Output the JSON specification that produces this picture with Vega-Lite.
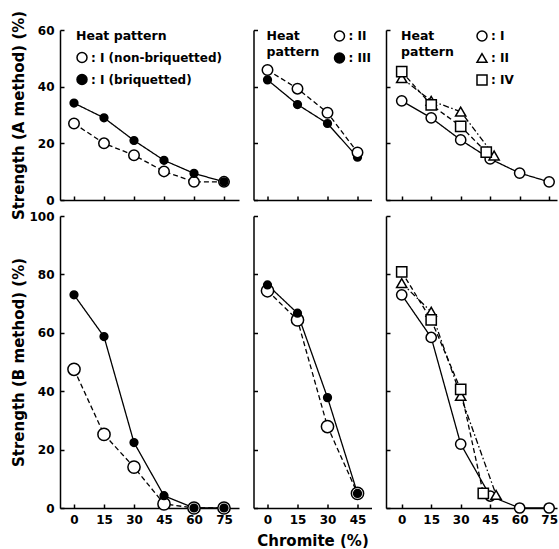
{
  "$schema": "https://vega.github.io/schema/vega-lite/v6.json",
  "padding": {"left": 11, "top": 10, "right": 0, "bottom": 0},
  "background": "white",
  "bounds": "flush",
  "datasets": {
    "tl": [
      {"x": 0, "y": 27, "s": ": I (non-briquetted)"},
      {"x": 15, "y": 20, "s": ": I (non-briquetted)"},
      {"x": 30, "y": 15.8, "s": ": I (non-briquetted)"},
      {"x": 45, "y": 10.1, "s": ": I (non-briquetted)"},
      {"x": 60, "y": 6.4, "s": ": I (non-briquetted)"},
      {"x": 75, "y": 6.4, "s": ": I (non-briquetted)"},
      {"x": 0, "y": 34.2, "s": ": I (briquetted)"},
      {"x": 15, "y": 29, "s": ": I (briquetted)"},
      {"x": 30, "y": 21, "s": ": I (briquetted)"},
      {"x": 45, "y": 14, "s": ": I (briquetted)"},
      {"x": 60, "y": 9.4, "s": ": I (briquetted)"},
      {"x": 75, "y": 6.4, "s": ": I (briquetted)"}
    ],
    "tm": [
      {"x": 0, "y": 42.4, "s": ": III"},
      {"x": 15, "y": 33.7, "s": ": III"},
      {"x": 30, "y": 27, "s": ": III"},
      {"x": 45, "y": 15.1, "s": ": III"},
      {"x": 0, "y": 45.9, "s": ": II"},
      {"x": 15, "y": 39.3, "s": ": II"},
      {"x": 30, "y": 30.8, "s": ": II"},
      {"x": 45, "y": 16.8, "s": ": II"}
    ],
    "tr": [
      {"x": 0, "y": 35, "s": ": I"},
      {"x": 15, "y": 29, "s": ": I"},
      {"x": 30, "y": 21.2, "s": ": I"},
      {"x": 45, "y": 14.5, "s": ": I"},
      {"x": 60, "y": 9.5, "s": ": I"},
      {"x": 75, "y": 6.4, "s": ": I"},
      {"x": 0, "y": 43, "s": ": II"},
      {"x": 15, "y": 35, "s": ": II"},
      {"x": 30, "y": 31.2, "s": ": II"},
      {"x": 47, "y": 15.7, "s": ": II"},
      {"x": 0, "y": 45.3, "s": ": IV"},
      {"x": 15, "y": 33.6, "s": ": IV"},
      {"x": 30, "y": 26, "s": ": IV"},
      {"x": 43, "y": 16.9, "s": ": IV"}
    ],
    "bl": [
      {"x": 0, "y": 47.5, "s": ": I (non-briquetted)"},
      {"x": 15, "y": 25.2, "s": ": I (non-briquetted)"},
      {"x": 30, "y": 14, "s": ": I (non-briquetted)"},
      {"x": 45, "y": 1.4, "s": ": I (non-briquetted)"},
      {"x": 60, "y": 0, "s": ": I (non-briquetted)"},
      {"x": 75, "y": 0, "s": ": I (non-briquetted)"},
      {"x": 0, "y": 73, "s": ": I (briquetted)"},
      {"x": 15, "y": 58.7, "s": ": I (briquetted)"},
      {"x": 30, "y": 22.4, "s": ": I (briquetted)"},
      {"x": 45, "y": 4.2, "s": ": I (briquetted)"},
      {"x": 60, "y": 0, "s": ": I (briquetted)"},
      {"x": 75, "y": 0, "s": ": I (briquetted)"}
    ],
    "bm": [
      {"x": 0, "y": 74.4, "s": ": II"},
      {"x": 15, "y": 64.4, "s": ": II"},
      {"x": 30, "y": 27.9, "s": ": II"},
      {"x": 45, "y": 5, "s": ": II"},
      {"x": 0, "y": 76.4, "s": ": III"},
      {"x": 15, "y": 66.7, "s": ": III"},
      {"x": 30, "y": 37.8, "s": ": III"},
      {"x": 45, "y": 5, "s": ": III"}
    ],
    "br": [
      {"x": 0, "y": 73, "s": ": I"},
      {"x": 15, "y": 58.4, "s": ": I"},
      {"x": 30, "y": 21.9, "s": ": I"},
      {"x": 45, "y": 4.1, "s": ": I"},
      {"x": 60, "y": 0, "s": ": I"},
      {"x": 75, "y": 0, "s": ": I"},
      {"x": 0, "y": 77, "s": ": II"},
      {"x": 15, "y": 67.2, "s": ": II"},
      {"x": 30, "y": 38.4, "s": ": II"},
      {"x": 48, "y": 4.5, "s": ": II"},
      {"x": 0, "y": 80.9, "s": ": IV"},
      {"x": 15, "y": 64.4, "s": ": IV"},
      {"x": 30, "y": 40.6, "s": ": IV"},
      {"x": 41.5, "y": 5, "s": ": IV"}
    ]
  },
  "columns": 3,
  "spacing": {"row": 16, "column": 14.5},
  "resolve": {"scale": {"x": "independent", "y": "independent", "fill": "independent", "shape": "independent", "stroke": "independent"}, "legend": {"fill": "independent", "shape": "independent", "stroke": "independent"}},
  "concat": [
    {
      "width": 179, "height": 170,
      "data": {"name": "tl"},
      "layer": [
        {"mark": {"type": "line", "color": "black", "strokeWidth": 1.3},
         "encoding": {
           "x": {"field": "x", "type": "quantitative", "scale": {"domain": [-7, 82.5], "nice": false}, "axis": {"values": [0, 15, 30, 45, 60, 75], "tickCount": 20, "labels": false, "title": null}},
           "y": {"field": "y", "type": "quantitative", "scale": {"domain": [0, 60], "nice": false}, "axis": {"values": [0, 20, 40, 60], "tickCount": 20, "title": "Strength (A method) (%)"}},
           "detail": {"field": "s", "type": "nominal"},
           "strokeDash": {"condition": {"test": "datum.s === ': I (briquetted)'", "value": [1, 0]}, "value": [5, 3]}
         }},
        {"mark": {"type": "point", "filled": true, "strokeWidth": 1.5, "opacity": 1},
         "encoding": {
           "x": {"field": "x", "type": "quantitative"},
           "y": {"field": "y", "type": "quantitative"},
           "fill": {"field": "s", "type": "nominal", "scale": {"domain": [": I (non-briquetted)", ": I (briquetted)"], "range": ["white", "black"]},
                    "legend": {"title": "Heat pattern", "orient": "none", "legendX": 16, "legendY": 0, "symbolStrokeWidth": 1.5}},
           "stroke": {"field": "s", "type": "nominal", "scale": {"domain": [": I (non-briquetted)", ": I (briquetted)"], "range": ["black", "black"]},
                    "legend": {"title": "Heat pattern", "orient": "none", "legendX": 16, "legendY": 0, "symbolStrokeWidth": 1.5}},
           "shape": {"field": "s", "type": "nominal", "scale": {"domain": [": I (non-briquetted)", ": I (briquetted)"], "range": ["circle", "circle"]},
                    "legend": {"title": "Heat pattern", "orient": "none", "legendX": 16, "legendY": 0, "symbolStrokeWidth": 1.5}},
           "size": {"condition": {"test": "datum.s === ': I (briquetted)'", "value": 60}, "value": 110}
         }}
      ]
    },
    {
      "width": 118, "height": 170,
      "data": {"name": "tm"},
      "layer": [
        {"mark": {"type": "line", "color": "black", "strokeWidth": 1.3},
         "encoding": {
           "x": {"field": "x", "type": "quantitative", "scale": {"domain": [-7, 52], "nice": false}, "axis": {"values": [0, 15, 30, 45], "tickCount": 20, "labels": false, "title": null}},
           "y": {"field": "y", "type": "quantitative", "scale": {"domain": [0, 60], "nice": false}, "axis": {"values": [0, 20, 40, 60], "tickCount": 20, "labels": false, "title": null}},
           "detail": {"field": "s", "type": "nominal"},
           "strokeDash": {"condition": {"test": "datum.s === ': III'", "value": [1, 0]}, "value": [5, 3]}
         }},
        {"mark": {"type": "point", "filled": true, "strokeWidth": 1.5, "opacity": 1},
         "encoding": {
           "x": {"field": "x", "type": "quantitative"},
           "y": {"field": "y", "type": "quantitative"},
           "fill": {"field": "s", "type": "nominal", "scale": {"domain": [": II", ": III"], "range": ["white", "black"]},
                    "legend": {"title": ["Heat", "pattern"], "orient": "none", "legendX": 13, "legendY": 0, "titleOrient": "left", "titleAngle": 0, "titleAnchor": "start", "titleBaseline": "top", "titlePadding": 14, "symbolStrokeWidth": 1.5}},
           "stroke": {"field": "s", "type": "nominal", "scale": {"domain": [": II", ": III"], "range": ["black", "black"]},
                    "legend": {"title": ["Heat", "pattern"], "orient": "none", "legendX": 13, "legendY": 0, "titleOrient": "left", "titleAngle": 0, "titleAnchor": "start", "titleBaseline": "top", "titlePadding": 14, "symbolStrokeWidth": 1.5}},
           "shape": {"field": "s", "type": "nominal", "scale": {"domain": [": II", ": III"], "range": ["circle", "circle"]},
                    "legend": {"title": ["Heat", "pattern"], "orient": "none", "legendX": 13, "legendY": 0, "titleOrient": "left", "titleAngle": 0, "titleAnchor": "start", "titleBaseline": "top", "titlePadding": 14, "symbolStrokeWidth": 1.5}},
           "size": {"condition": {"test": "datum.s === ': III'", "value": 60}, "value": 110}
         }}
      ]
    },
    {
      "width": 171, "height": 170,
      "data": {"name": "tr"},
      "layer": [
        {"mark": {"type": "line", "color": "black", "strokeWidth": 1.3},
         "encoding": {
           "x": {"field": "x", "type": "quantitative", "scale": {"domain": [-8, 79], "nice": false}, "axis": {"values": [0, 15, 30, 45, 60, 75], "tickCount": 20, "labels": false, "title": null}},
           "y": {"field": "y", "type": "quantitative", "scale": {"domain": [0, 60], "nice": false}, "axis": {"values": [0, 20, 40, 60], "tickCount": 20, "labels": false, "title": null}},
           "detail": {"field": "s", "type": "nominal"},
           "strokeDash": {"condition": [{"test": "datum.s === ': I'", "value": [1, 0]}, {"test": "datum.s === ': II'", "value": [6, 2.5, 1.5, 2.5]}], "value": [5, 3]}
         }},
        {"mark": {"type": "point", "filled": true, "strokeWidth": 1.5, "opacity": 1, "size": 105},
         "encoding": {
           "x": {"field": "x", "type": "quantitative"},
           "y": {"field": "y", "type": "quantitative"},
           "fill": {"field": "s", "type": "nominal", "scale": {"domain": [": I", ": II", ": IV"], "range": ["white", "white", "white"]},
                    "legend": {"title": ["Heat", "pattern"], "orient": "none", "legendX": 15, "legendY": 0, "titleOrient": "left", "titleAngle": 0, "titleAnchor": "start", "titleBaseline": "top", "titlePadding": 22, "symbolStrokeWidth": 1.5}},
           "stroke": {"field": "s", "type": "nominal", "scale": {"domain": [": I", ": II", ": IV"], "range": ["black", "black", "black"]},
                    "legend": {"title": ["Heat", "pattern"], "orient": "none", "legendX": 15, "legendY": 0, "titleOrient": "left", "titleAngle": 0, "titleAnchor": "start", "titleBaseline": "top", "titlePadding": 22, "symbolStrokeWidth": 1.5}},
           "shape": {"field": "s", "type": "nominal", "scale": {"domain": [": I", ": II", ": IV"], "range": ["circle", "triangle-up", "square"]},
                    "legend": {"title": ["Heat", "pattern"], "orient": "none", "legendX": 15, "legendY": 0, "titleOrient": "left", "titleAngle": 0, "titleAnchor": "start", "titleBaseline": "top", "titlePadding": 22, "symbolStrokeWidth": 1.5}}
         }}
      ]
    },
    {
      "width": 179, "height": 292,
      "data": {"name": "bl"},
      "layer": [
        {"mark": {"type": "line", "color": "black", "strokeWidth": 1.3},
         "encoding": {
           "x": {"field": "x", "type": "quantitative", "scale": {"domain": [-7, 82.5], "nice": false}, "axis": {"values": [0, 15, 30, 45, 60, 75], "tickCount": 20, "title": null, "labelOverlap": false}},
           "y": {"field": "y", "type": "quantitative", "scale": {"domain": [0, 100], "nice": false}, "axis": {"values": [0, 20, 40, 60, 80, 100], "tickCount": 20, "title": "Strength (B method) (%)", "labelOverlap": false}},
           "detail": {"field": "s", "type": "nominal"},
           "strokeDash": {"condition": {"test": "datum.s === ': I (briquetted)'", "value": [1, 0]}, "value": [5, 3]}
         }},
        {"mark": {"type": "point", "filled": true, "stroke": "black", "strokeWidth": 1.5, "opacity": 1},
         "encoding": {
           "x": {"field": "x", "type": "quantitative"},
           "y": {"field": "y", "type": "quantitative"},
           "fill": {"field": "s", "type": "nominal", "scale": {"domain": [": I (non-briquetted)", ": I (briquetted)"], "range": ["white", "black"]}, "legend": null},
           "shape": {"field": "s", "type": "nominal", "scale": {"domain": [": I (non-briquetted)", ": I (briquetted)"], "range": ["circle", "circle"]}, "legend": null},
           "size": {"condition": {"test": "datum.s === ': I (briquetted)'", "value": 60}, "value": 150}
         }}
      ]
    },
    {
      "width": 118, "height": 292,
      "data": {"name": "bm"},
      "layer": [
        {"mark": {"type": "line", "color": "black", "strokeWidth": 1.3},
         "encoding": {
           "x": {"field": "x", "type": "quantitative", "scale": {"domain": [-7, 52], "nice": false}, "axis": {"values": [0, 15, 30, 45], "tickCount": 20, "title": "Chromite (%)", "labelOverlap": false}},
           "y": {"field": "y", "type": "quantitative", "scale": {"domain": [0, 100], "nice": false}, "axis": {"values": [0, 20, 40, 60, 80, 100], "tickCount": 20, "labels": false, "title": null}},
           "detail": {"field": "s", "type": "nominal"},
           "strokeDash": {"condition": {"test": "datum.s === ': III'", "value": [1, 0]}, "value": [5, 3]}
         }},
        {"mark": {"type": "point", "filled": true, "stroke": "black", "strokeWidth": 1.5, "opacity": 1},
         "encoding": {
           "x": {"field": "x", "type": "quantitative"},
           "y": {"field": "y", "type": "quantitative"},
           "fill": {"field": "s", "type": "nominal", "scale": {"domain": [": II", ": III"], "range": ["white", "black"]}, "legend": null},
           "shape": {"field": "s", "type": "nominal", "scale": {"domain": [": II", ": III"], "range": ["circle", "circle"]}, "legend": null},
           "size": {"condition": {"test": "datum.s === ': III'", "value": 60}, "value": 150}
         }}
      ]
    },
    {
      "width": 171, "height": 292,
      "data": {"name": "br"},
      "layer": [
        {"mark": {"type": "line", "color": "black", "strokeWidth": 1.3},
         "encoding": {
           "x": {"field": "x", "type": "quantitative", "scale": {"domain": [-8, 79], "nice": false}, "axis": {"values": [0, 15, 30, 45, 60, 75], "tickCount": 20, "title": null, "labelOverlap": false}},
           "y": {"field": "y", "type": "quantitative", "scale": {"domain": [0, 100], "nice": false}, "axis": {"values": [0, 20, 40, 60, 80, 100], "tickCount": 20, "labels": false, "title": null}},
           "detail": {"field": "s", "type": "nominal"},
           "strokeDash": {"condition": [{"test": "datum.s === ': I'", "value": [1, 0]}, {"test": "datum.s === ': II'", "value": [6, 2.5, 1.5, 2.5]}], "value": [5, 3]}
         }},
        {"mark": {"type": "point", "filled": true, "stroke": "black", "strokeWidth": 1.5, "opacity": 1, "size": 105},
         "encoding": {
           "x": {"field": "x", "type": "quantitative"},
           "y": {"field": "y", "type": "quantitative"},
           "fill": {"field": "s", "type": "nominal", "scale": {"domain": [": I", ": II", ": IV"], "range": ["white", "white", "white"]}, "legend": null},
           "shape": {"field": "s", "type": "nominal", "scale": {"domain": [": I", ": II", ": IV"], "range": ["circle", "triangle-up", "square"]}, "legend": null}
         }}
      ]
    }
  ],
  "config": {
    "font": "DejaVu Sans",
    "view": {"stroke": null},
    "axis": {
      "grid": false,
      "domainColor": "black", "domainWidth": 1.5,
      "tickColor": "black", "tickWidth": 1.5, "tickSize": -4,
      "labelFont": "DejaVu Sans", "labelFontSize": 12, "labelFontWeight": "bold", "labelColor": "black", "labelPadding": 10, "labelOverlap": false,
      "titleFont": "DejaVu Sans", "titleFontSize": 15, "titleFontWeight": "bold", "titleColor": "black"
    },
    "axisY": {"titlePadding": 2, "minExtent": 32, "maxExtent": 32},
    "axisX": {"titlePadding": 8, "titleFontSize": 15},
    "legend": {
      "padding": 0,
      "labelFont": "DejaVu Sans", "labelFontSize": 12, "labelFontWeight": "bold", "labelColor": "black", "labelOffset": 3,
      "titleFont": "DejaVu Sans", "titleFontSize": 12.5, "titleFontWeight": "bold", "titleColor": "black", "titlePadding": 9, "titleLineHeight": 16,
      "symbolSize": 100, "symbolStrokeWidth": 1.5, "rowPadding": 6
    }
  }
}
